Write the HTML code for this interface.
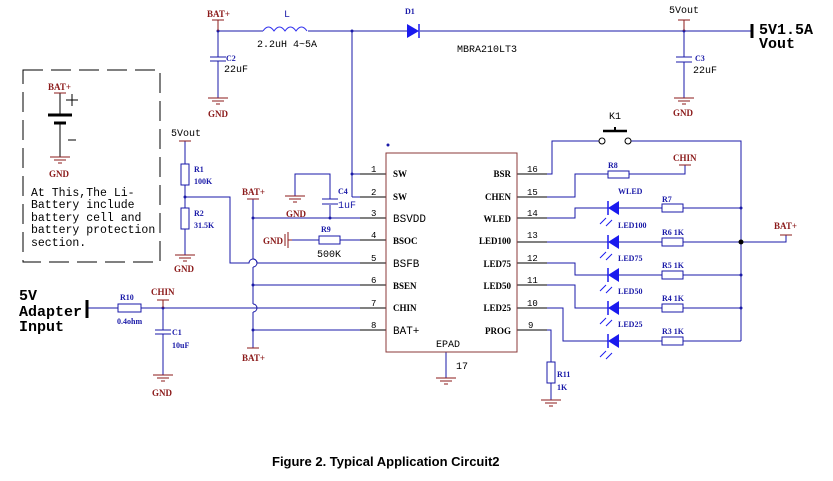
<!DOCTYPE html>
<html><head><meta charset="utf-8"><style>
html,body{margin:0;padding:0;background:#fff}
svg{display:block;font-family:"Liberation Serif",serif}
.m{font-family:"Liberation Mono",monospace;font-size:11.5px;fill:#000}
.r{fill:#8b1a1a;font-size:9px;font-weight:bold}
.b{fill:#1a1aa8;font-size:8px;font-weight:bold}
.p{fill:#000;font-size:9px;font-weight:bold}
.mo{font-family:"Liberation Mono",monospace}
</style></head><body>
<svg width="833" height="481" viewBox="0 0 833 481" xmlns="http://www.w3.org/2000/svg">
<defs>
<g id="gnd" stroke="#8b1a1a" stroke-width="1" fill="none"><line x1="-10" y1="0" x2="10" y2="0"/><line x1="-6" y1="3" x2="6" y2="3"/><line x1="-2" y1="6" x2="2" y2="6"/></g>
<g id="led"><polygon points="0,0 11,-7 11,7" fill="#1a1aee"/><line x1="0" y1="-7" x2="0" y2="7" stroke="#1a1aee" stroke-width="1.5"/><g stroke="#1a1aee" stroke-width="1"><line x1="-2" y1="10" x2="-8" y2="16"/><line x1="4" y1="12" x2="-2" y2="18"/></g></g>
</defs>
<rect width="833" height="481" fill="#fff"/>
<g fill="none" stroke="#1a1aa8" stroke-width="1">
<line x1="218" y1="31" x2="263" y2="31"/><line x1="308" y1="31" x2="407" y2="31"/><line x1="420" y1="31" x2="752" y2="31"/>
<path d="M263 31 q5.5 -8 11 0 q5.5 -8 11 0 q5.5 -8 11 0 q5.5 -8 11 0" stroke="#3030ee"/>
<line x1="218" y1="31" x2="218" y2="57"/><line x1="218" y1="61" x2="218" y2="98"/>
<line x1="684" y1="31" x2="684" y2="57"/><line x1="684" y1="62" x2="684" y2="98"/>
<line x1="352" y1="31" x2="352" y2="197"/><line x1="352" y1="197" x2="386" y2="197"/><line x1="352" y1="174" x2="386" y2="174"/>
<line x1="185" y1="141" x2="185" y2="164"/><line x1="185" y1="185" x2="185" y2="208"/><line x1="185" y1="229" x2="185" y2="255"/>
<rect x="181" y="164" width="8" height="21"/><rect x="181" y="208" width="8" height="21"/>
<path d="M185 197 H230 V263 H249 a4 4 0 0 1 8 0 H386"/>
<path d="M253 199 V259 M253 267 V304 M253 312 V348"/>
<path d="M253 259 a4 4 0 0 1 0 8 M253 304 a4 4 0 0 1 0 8"/>
<line x1="253" y1="218" x2="386" y2="218"/><line x1="253" y1="285" x2="386" y2="285"/><line x1="253" y1="330" x2="386" y2="330"/>
<path d="M295 196 V174 H330 V199 M330 205 V218"/>
<line x1="322" y1="199" x2="338" y2="199"/><line x1="322" y1="204" x2="338" y2="204"/>
<line x1="292" y1="240" x2="319" y2="240"/><line x1="340" y1="240" x2="386" y2="240"/><rect x="319" y="236" width="21" height="8"/>
<line x1="87" y1="308" x2="118" y2="308"/><line x1="141" y1="308" x2="386" y2="308"/><rect x="118" y="304" width="23" height="8"/>
<line x1="163" y1="300" x2="163" y2="330"/><line x1="163" y1="334" x2="163" y2="375"/>
<line x1="155" y1="330" x2="171" y2="330"/><line x1="155" y1="334" x2="171" y2="334"/>
<line x1="210" y1="57" x2="226" y2="57"/><line x1="210" y1="61" x2="226" y2="61"/>
<line x1="676" y1="57" x2="692" y2="57"/><line x1="676" y1="62" x2="692" y2="62"/>
<path d="M547 174 H552 V141 H600 M630 141 H741 V341"/>
<path d="M547 197 H575 V174 H608 M629 174 H685 V165"/><rect x="608" y="171" width="21" height="7"/>
<path d="M547 218 H575 V208 H608 M619 208 H662 M683 208 H741"/>
<path d="M547 242 H608 M619 242 H662 M683 242 H786 V235"/>
<path d="M547 263 H575 V275 H608 M619 275 H662 M683 275 H741"/>
<path d="M547 285 H575 V308 H608 M619 308 H662 M683 308 H741"/>
<path d="M547 308 H563 V341 H608 M619 341 H662 M683 341 H741"/>
<rect x="662" y="204" width="21" height="8"/><rect x="662" y="238" width="21" height="8"/><rect x="662" y="271" width="21" height="8"/><rect x="662" y="304" width="21" height="8"/><rect x="662" y="337" width="21" height="8"/>
<path d="M547 330 H551 V362 M551 383 V400"/><rect x="547" y="362" width="8" height="21"/>
<line x1="446" y1="352" x2="446" y2="378"/>
</g>
<g stroke="#000" stroke-width="1">
<line x1="360" y1="174" x2="386" y2="174"/><line x1="360" y1="197" x2="386" y2="197"/><line x1="360" y1="218" x2="386" y2="218"/><line x1="360" y1="240" x2="386" y2="240"/><line x1="360" y1="263" x2="386" y2="263"/><line x1="360" y1="285" x2="386" y2="285"/><line x1="360" y1="308" x2="386" y2="308"/><line x1="360" y1="330" x2="386" y2="330"/>
<line x1="517" y1="174" x2="547" y2="174"/><line x1="517" y1="197" x2="547" y2="197"/><line x1="517" y1="218" x2="547" y2="218"/><line x1="517" y1="242" x2="547" y2="242"/><line x1="517" y1="263" x2="547" y2="263"/><line x1="517" y1="285" x2="547" y2="285"/><line x1="517" y1="308" x2="547" y2="308"/><line x1="517" y1="330" x2="547" y2="330"/>
<line x1="60" y1="93" x2="60" y2="115"/><line x1="60" y1="123" x2="60" y2="157"/>
<line x1="48" y1="115" x2="72" y2="115" stroke-width="3"/><line x1="54" y1="123" x2="66" y2="123" stroke-width="3"/>
<line x1="752" y1="24" x2="752" y2="38" stroke-width="3"/><line x1="87" y1="300" x2="87" y2="318" stroke-width="3"/>
<line x1="603" y1="131" x2="627" y2="131" stroke-width="2.5"/><line x1="615" y1="127" x2="615" y2="131" stroke-width="2"/>
<line x1="66" y1="100" x2="78" y2="100"/><line x1="72" y1="94" x2="72" y2="106"/>
<line x1="68" y1="140" x2="76" y2="140"/>
</g>
<circle cx="602" cy="141" r="3" fill="#fff" stroke="#000"/><circle cx="628" cy="141" r="3" fill="#fff" stroke="#000"/>
<rect x="386" y="153" width="131" height="199" fill="none" stroke="#8b3a3a" stroke-width="1"/>
<circle cx="388" cy="145" r="1.5" fill="#1a1aa8"/>
<polygon points="407,24 419,31 407,38" fill="#1a1aee"/><line x1="419" y1="24" x2="419" y2="38" stroke="#1a1aee" stroke-width="1.5"/>
<use href="#led" x="608" y="208"/><use href="#led" x="608" y="242"/><use href="#led" x="608" y="275"/><use href="#led" x="608" y="308"/><use href="#led" x="608" y="341"/>
<g fill="#1a1aa8"><circle cx="218" cy="31" r="1.5"/><circle cx="352" cy="31" r="1.5"/><circle cx="684" cy="31" r="1.5"/><circle cx="352" cy="174" r="1.5"/><circle cx="185" cy="197" r="1.5"/><circle cx="253" cy="218" r="1.5"/><circle cx="330" cy="218" r="1.5"/><circle cx="253" cy="285" r="1.5"/><circle cx="253" cy="330" r="1.5"/><circle cx="163" cy="308" r="1.5"/><circle cx="741" cy="208" r="1.5"/><circle cx="741" cy="242" r="2.5" fill="#000"/><circle cx="741" cy="275" r="1.5"/><circle cx="741" cy="308" r="1.5"/></g>
<g stroke="#8b1a1a" fill="none">
<path d="M212 20 H224 M218 20 V31"/><path d="M54 93 H66"/><path d="M179 141 H191"/><path d="M247 199 H259"/><path d="M247 348 H259"/><path d="M157 300 H169 M163 300 V308"/><path d="M679 165 H691"/><path d="M780 235 H792"/><path d="M678 20 H690 M684 20 V31"/>
<path d="M292 240 H288 M288 232 V248 M285 234 V246"/>
</g>
<use href="#gnd" x="218" y="98"/><use href="#gnd" x="684" y="98"/><use href="#gnd" x="60" y="157"/><use href="#gnd" x="185" y="255"/><use href="#gnd" x="295" y="196"/><use href="#gnd" x="163" y="375"/><use href="#gnd" x="446" y="378"/><use href="#gnd" x="551" y="400"/>
<path d="M23 70 H160 V262 H23 Z" fill="none" stroke="#000" stroke-dasharray="20,8"/>
<g class="r"><text x="207" y="17">BAT+</text><text x="208" y="117">GND</text><text x="48" y="90">BAT+</text><text x="49" y="177">GND</text><text x="174" y="272">GND</text><text x="242" y="195">BAT+</text><text x="286" y="217">GND</text><text x="263" y="244">GND</text><text x="242" y="361">BAT+</text><text x="151" y="295">CHIN</text><text x="152" y="396">GND</text><text x="673" y="161">CHIN</text><text x="774" y="229">BAT+</text><text x="673" y="116">GND</text></g>
<g class="mo" style="font-size:10px" fill="#000"><text x="284" y="17" fill="#1a1aa8">L</text><text x="257" y="47">2.2uH 4~5A</text><text x="457" y="52">MBRA210LT3</text><text x="669" y="13">5Vout</text><text x="224" y="72">22uF</text><text x="693" y="73">22uF</text><text x="171" y="136">5Vout</text><text x="338" y="208" fill="#1a1aa8">1uF</text><text x="317" y="257">500K</text><text x="436" y="347">EPAD</text><text x="456" y="369">17</text><text x="609" y="119">K1</text></g>
<g class="m"><text x="31" y="196">At This,The Li-</text><text x="31" y="208">Battery include</text><text x="31" y="221">battery cell and</text><text x="31" y="233">battery protection</text><text x="31" y="246">section.</text></g>
<g class="mo" style="font-size:15px;font-weight:bold"><text x="759" y="34">5V1.5A</text><text x="759" y="48">Vout</text><text x="19" y="300">5V</text><text x="19" y="316">Adapter</text><text x="19" y="331">Input</text></g>
<g class="b"><text x="405" y="14">D1</text><text x="226" y="61">C2</text><text x="695" y="61">C3</text><text x="194" y="172">R1</text><text x="194" y="184">100K</text><text x="194" y="216">R2</text><text x="194" y="228">31.5K</text><text x="338" y="194">C4</text><text x="321" y="232">R9</text><text x="120" y="300">R10</text><text x="117" y="324">0.4ohm</text><text x="172" y="335">C1</text><text x="172" y="348">10uF</text><text x="557" y="377">R11</text><text x="557" y="390">1K</text><text x="608" y="168">R8</text><text x="618" y="194">WLED</text><text x="618" y="228">LED100</text><text x="618" y="261">LED75</text><text x="618" y="294">LED50</text><text x="618" y="327">LED25</text><text x="662" y="202">R7</text><text x="662" y="235">R6 1K</text><text x="662" y="268">R5 1K</text><text x="662" y="301">R4 1K</text><text x="662" y="334">R3 1K</text></g>
<g class="mo" style="font-size:9px" fill="#000"><text x="371" y="172">1</text><text x="371" y="195">2</text><text x="371" y="216">3</text><text x="371" y="238">4</text><text x="371" y="261">5</text><text x="371" y="283">6</text><text x="371" y="306">7</text><text x="371" y="328">8</text><text x="527" y="172">16</text><text x="527" y="195">15</text><text x="527" y="216">14</text><text x="527" y="238">13</text><text x="527" y="261">12</text><text x="527" y="283">11</text><text x="527" y="306">10</text><text x="528" y="328">9</text></g>
<g class="p"><text x="393" y="177">SW</text><text x="393" y="200">SW</text><text x="393" y="222" class="mo" style="font-size:11px;font-weight:normal">BSVDD</text><text x="393" y="244">BSOC</text><text x="393" y="267" class="mo" style="font-size:11px;font-weight:normal">BSFB</text><text x="393" y="289">BSEN</text><text x="393" y="311">CHIN</text><text x="393" y="334" class="mo" style="font-size:11px;font-weight:normal">BAT+</text>
<g text-anchor="end"><text x="511" y="177">BSR</text><text x="511" y="200">CHEN</text><text x="511" y="222">WLED</text><text x="511" y="244">LED100</text><text x="511" y="267">LED75</text><text x="511" y="289">LED50</text><text x="511" y="311">LED25</text><text x="511" y="334">PROG</text></g></g>
<text x="272" y="466" style="font-family:'Liberation Sans',sans-serif;font-size:13px;font-weight:bold">Figure 2.  Typical Application Circuit2</text>
</svg>
</body></html>
